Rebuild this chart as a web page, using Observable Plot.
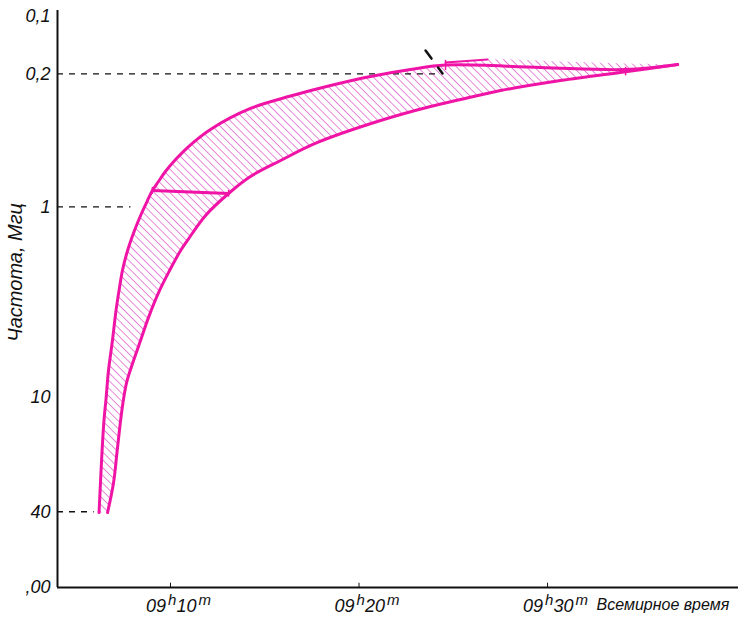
<!DOCTYPE html>
<html><head><meta charset="utf-8">
<script src="https://cdn.jsdelivr.net/npm/d3@7"></script>
<script src="https://cdn.jsdelivr.net/npm/@observablehq/plot@0.6"></script>
<style>body{margin:0;background:#fff} svg{display:block}</style>
</head><body><div id="chart"></div>
<script>
// Frequency ticks (MHz) and their printed labels
const yTicks = [0.1, 0.2, 1, 10, 40, 100];
const yTickLabels = ["0,1", "0,2", "1", "10", "40", ",00"];
// Time ticks (minutes after 09h00m UT) and labels (hours, minutes)
const xTicks = [10, 20, 30];
const xTickHours = ["09", "09", "09"];
const xTickMinutes = ["10", "20", "30"];

// Early (left / upper) boundary of the burst band, bottom -> top
const leftT = [6.21, 6.29, 6.37, 6.47, 6.58, 6.71, 6.92, 7.11, 7.27, 7.45, 7.72, 8.09, 8.46, 8.78, 9.04, 9.36, 9.73, 10.27, 10.96, 12.12, 14.24, 16.37, 18.49, 20.61, 22.73, 24.59];
const leftF = [40.4, 27.4, 19.1, 13.27, 10.2, 7.24, 5.04, 3.50, 2.75, 2.16, 1.70, 1.331, 1.084, 0.926, 0.821, 0.736, 0.652, 0.564, 0.482, 0.392, 0.304, 0.2617, 0.2304, 0.2066, 0.1899, 0.1800];
// Top edge of hatched tail
const capT = [26.82, 30.69, 34.14, 36.90];
const capF = [0.1682, 0.1724, 0.1766, 0.1788];
// Thick line continuing the early boundary to the tip
const tailT = [24.59, 29.63, 34.14, 36.90];
const tailF = [0.1800, 0.1854, 0.1899, 0.1788];
// Late (right / lower) boundary, tip -> bottom
const rightT = [36.90, 34.14, 30.69, 27.51, 25.39, 23.79, 21.14, 17.80, 15.84, 14.24, 13.08, 11.86, 10.90, 10.53, 9.95, 9.42, 8.83, 8.41, 8.04, 7.67, 7.48, 7.32, 7.16, 6.98, 6.66];
const rightF = [0.179, 0.195, 0.217, 0.245, 0.273, 0.297, 0.352, 0.459, 0.571, 0.693, 0.851, 1.11, 1.50, 1.70, 2.16, 2.75, 3.82, 5.04, 6.42, 8.38, 10.67, 14.09, 19.54, 28.07, 40.4];
// Cross bar near 1 MHz
const barT = [9.04, 13.08];
const barF = [0.821, 0.851];
// Short top line of the tail
const topT = [24.59, 26.82];
const topF = [0.1745, 0.1682];
// Small cross ticks: time, low f, high f
const markT = [24.59, 34.14, 9.04, 13.08];
const markF1 = [0.170, 0.185, 0.79, 0.82];
const markF2 = [0.192, 0.205, 0.86, 0.89];
// Dashed guide lines: frequency and end time
const guideF = [0.2, 1, 40];
const guideEnd = [24.3, 7.9, 5.95];
// Leader for label "1"
const leaderT = [23.53, 24.43];
const leaderF = [0.151, 0.1993];

const X0 = 4.005, X1 = 40.13;
const PINK = "#ef14a6";

const leftPts = leftT.map((t, i) => ({t, f: leftF[i]}));
const capPts = capT.map((t, i) => ({t, f: capF[i]}));
const rightPts = rightT.map((t, i) => ({t, f: rightF[i]}));
const tailPts = tailT.map((t, i) => ({t, f: tailF[i]}));
const polygon = [...leftPts, ...capPts, ...rightPts];
const upperLine = [...leftPts, ...tailPts.slice(1)];
const bar = barT.map((t, i) => ({t, f: barF[i]}));
const topLine = topT.map((t, i) => ({t, f: topF[i]}));
const marks = markT.map((t, i) => ({t, f1: markF1[i], f2: markF2[i]}));
const guides = guideF.map((f, i) => ({f, x2: guideEnd[i]}));
const leader = leaderT.map((t, i) => ({t, f: leaderF[i]}));

const chart = Plot.plot({
  width: 738, height: 617,
  marginLeft: 57, marginRight: 0, marginTop: 10, marginBottom: 30,
  style: {fontFamily: "'Liberation Sans', 'DejaVu Sans', sans-serif", fontSize: "16px", fontStyle: "italic", background: "#fff"},
  x: {domain: [X0, X1]},
  y: {type: "log", domain: [0.093, 100], reverse: true},
  marks: [
    Plot.line(polygon, {x: "t", y: "f", fill: "url(#hatch)", stroke: "none", curve: "catmull-rom"}),
    Plot.ruleY(guides, {y: "f", x1: X0, x2: "x2", stroke: "#111", strokeWidth: 1.3, strokeDasharray: "6,6"}),
    Plot.line(upperLine, {x: "t", y: "f", stroke: PINK, strokeWidth: 3, curve: "catmull-rom"}),
    Plot.line(rightPts, {x: "t", y: "f", stroke: PINK, strokeWidth: 3, curve: "catmull-rom"}),
    Plot.line(bar, {x: "t", y: "f", stroke: PINK, strokeWidth: 3}),
    Plot.line(topLine, {x: "t", y: "f", stroke: PINK, strokeWidth: 2}),
    Plot.ruleX(marks, {x: "t", y1: "f1", y2: "f2", stroke: PINK, strokeWidth: 1.5}),
    Plot.line(leader, {x: "t", y: "f", stroke: "#111", strokeWidth: 2.5, strokeDasharray: "10,11"}),
    Plot.ruleX([X0], {y1: 0.093, y2: 100, stroke: "#111", strokeWidth: 2}),
    Plot.ruleY([100], {x1: X0, x2: X1, stroke: "#111", strokeWidth: 2}),
    Plot.ruleX(xTicks, {x: d => d, y1: 100, y2: 95, stroke: "#111", strokeWidth: 1}),
    Plot.axisY(yTicks, {tickFormat: d => yTickLabels[yTicks.indexOf(d)], tickSize: 0, tickPadding: 7, label: null, fontSize: 18, fill: "#111"}),
    Plot.axisX(xTicks, {tickFormat: d => xTickHours[xTicks.indexOf(d)] + "h" + xTickMinutes[xTicks.indexOf(d)] + "m", tickSize: 0, tickPadding: 12, dx: 8, label: null, fontSize: 18, fill: "#111"}),
    Plot.text(["Всемирное время"], {x: 32.6, y: 100, text: d => d, textAnchor: "start", lineAnchor: "top", dy: 11, fontSize: 16, fill: "#111"}),
    Plot.text(["Частота, Мгц"], {x: X0, y: 2.21, text: d => d, rotate: -90, dx: -42, fontSize: 20, fill: "#111"})
  ]
});

// hatch pattern
const defs = d3.select(chart).insert("defs", ":first-child");
const pat = defs.append("pattern")
  .attr("id", "hatch").attr("patternUnits", "userSpaceOnUse")
  .attr("width", 5.5).attr("height", 5.5)
  .attr("patternTransform", "rotate(-45)");
pat.append("line").attr("x1", 0).attr("y1", 0).attr("x2", 0).attr("y2", 5.5)
  .attr("stroke", "#e060cf").attr("stroke-width", 1.5);

// raise the "h" and "m" in the time labels
d3.select(chart).selectAll('g[aria-label="x-axis tick label"] text').each(function() {
  const m = /^(\d+)h(\d+)m$/.exec(this.textContent);
  if (!m) return;
  const sel = d3.select(this);
  sel.text(null);
  sel.append("tspan").text(m[1]);
  sel.append("tspan").attr("dy", -7).attr("dx", 2).attr("font-size", 15).text("h");
  sel.append("tspan").attr("dy", 7).text(m[2]);
  sel.append("tspan").attr("dy", -7).attr("dx", 2).attr("font-size", 15).text("m");
});

document.getElementById("chart").appendChild(chart);
</script>
</body></html>
